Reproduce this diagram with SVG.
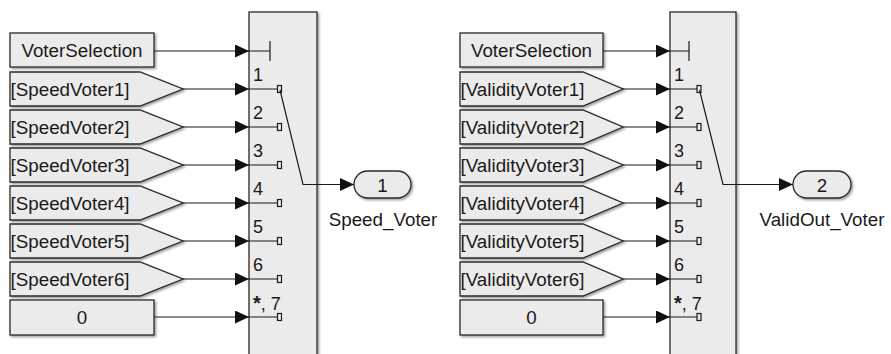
<svg xmlns="http://www.w3.org/2000/svg" width="891" height="354" viewBox="0 0 891 354">
<defs>
<style>
.blk{fill:#ebebeb;stroke:#2b2b2b;stroke-width:1.3;filter:url(#sh)}
.t{font-family:"Liberation Sans",Arial,sans-serif;font-size:18.8px;fill:#1a1a1a}
.p{font-family:"Liberation Sans",Arial,sans-serif;font-size:18px;fill:#1a1a1a}
.c{text-anchor:middle}
.w{fill:none;stroke:#1a1a1a;stroke-width:1.2}
.pin{fill:#ebebeb;stroke:#1a1a1a;stroke-width:1.2}
</style>
<filter id="sh" x="-10%" y="-10%" width="130%" height="130%">
<feDropShadow dx="1.5" dy="1.5" stdDeviation="0.8" flood-color="#000" flood-opacity="0.4"/>
</filter>
<marker id="ah" markerWidth="14" markerHeight="13" refX="14" refY="6.5" orient="auto" markerUnits="userSpaceOnUse">
<path d="M0,0 L14,6.5 L0,13 Z" fill="#111"/>
</marker>
</defs>

<!-- Left group -->
<g id="switch1">
<rect class="blk" x="249" y="12" width="68" height="360"/>
<text class="p" x="253" y="81">1</text>
<text class="p" x="253" y="119">2</text>
<text class="p" x="253" y="157">3</text>
<text class="p" x="253" y="195">4</text>
<text class="p" x="253" y="233">5</text>
<text class="p" x="253" y="271">6</text>
<text class="p" x="253" y="310"><tspan font-weight="bold" font-size="20px">*</tspan>, 7</text>
<path class="w" d="M249,51 H270 M270,41 V61"/>
<path class="w" d="M249,89 H278 M249,127 H278 M249,165 H278 M249,203 H278 M249,241 H278 M249,279 H278 M249,317 H278"/>
<rect class="pin" x="277.5" y="85.5" width="4" height="7"/>
<rect class="pin" x="277.5" y="123.5" width="4" height="7"/>
<rect class="pin" x="277.5" y="161.5" width="4" height="7"/>
<rect class="pin" x="277.5" y="199.5" width="4" height="7"/>
<rect class="pin" x="277.5" y="237.5" width="4" height="7"/>
<rect class="pin" x="277.5" y="275.5" width="4" height="7"/>
<rect class="pin" x="277.5" y="313.5" width="4" height="7"/>
<path class="w" d="M280,90 L303,184.5 H317"/>
</g>
<g id="vs1">
<rect class="blk" x="10" y="33" width="144" height="34"/>
<text class="t c" x="82" y="57">VoterSelection</text>
</g>
<g id="sv1"><path class="blk" d="M10,72 H140 L183,89 L140,106 H10 Z"/><text class="t" x="10.5" y="95.5">[SpeedVoter1]</text></g>
<g id="sv2"><path class="blk" d="M10,110 H140 L183,127 L140,144 H10 Z"/><text class="t" x="10.5" y="133.5">[SpeedVoter2]</text></g>
<g id="sv3"><path class="blk" d="M10,148 H140 L183,165 L140,182 H10 Z"/><text class="t" x="10.5" y="171.5">[SpeedVoter3]</text></g>
<g id="sv4"><path class="blk" d="M10,186 H140 L183,203 L140,220 H10 Z"/><text class="t" x="10.5" y="209.5">[SpeedVoter4]</text></g>
<g id="sv5"><path class="blk" d="M10,224 H140 L183,241 L140,258 H10 Z"/><text class="t" x="10.5" y="247.5">[SpeedVoter5]</text></g>
<g id="sv6"><path class="blk" d="M10,262 H140 L183,279 L140,296 H10 Z"/><text class="t" x="10.5" y="285.5">[SpeedVoter6]</text></g>
<g id="zero1">
<rect class="blk" x="10" y="300" width="144" height="35"/>
<text class="t c" x="82" y="324">0</text>
</g>
<g id="out1">
<rect class="blk" x="354" y="171" width="57" height="27" rx="13.5"/>
<text class="t c" x="382.5" y="191.5">1</text>
<text class="t c" x="383" y="226">Speed_Voter</text>
</g>

<!-- Right group -->
<g id="switch2">
<rect class="blk" x="670" y="12" width="66" height="360"/>
<text class="p" x="674" y="81">1</text>
<text class="p" x="674" y="119">2</text>
<text class="p" x="674" y="157">3</text>
<text class="p" x="674" y="195">4</text>
<text class="p" x="674" y="233">5</text>
<text class="p" x="674" y="271">6</text>
<text class="p" x="674" y="310"><tspan font-weight="bold" font-size="20px">*</tspan>, 7</text>
<path class="w" d="M670,51 H689 M689,41 V61"/>
<path class="w" d="M670,89 H697 M670,127 H697 M670,165 H697 M670,203 H697 M670,241 H697 M670,279 H697 M670,317 H697"/>
<rect class="pin" x="697" y="85.5" width="4" height="7"/>
<rect class="pin" x="697" y="123.5" width="4" height="7"/>
<rect class="pin" x="697" y="161.5" width="4" height="7"/>
<rect class="pin" x="697" y="199.5" width="4" height="7"/>
<rect class="pin" x="697" y="237.5" width="4" height="7"/>
<rect class="pin" x="697" y="275.5" width="4" height="7"/>
<rect class="pin" x="697" y="313.5" width="4" height="7"/>
<path class="w" d="M699.5,90 L723,184.5 H736"/>
</g>
<g id="vs2">
<rect class="blk" x="460" y="33" width="143" height="34"/>
<text class="t c" x="531.5" y="57">VoterSelection</text>
</g>
<g id="vv1"><path class="blk" d="M460,72 H583 L623,89 L583,106 H460 Z"/><text class="t" x="460.5" y="95.5">[ValidityVoter1]</text></g>
<g id="vv2"><path class="blk" d="M460,110 H583 L623,127 L583,144 H460 Z"/><text class="t" x="460.5" y="133.5">[ValidityVoter2]</text></g>
<g id="vv3"><path class="blk" d="M460,148 H583 L623,165 L583,182 H460 Z"/><text class="t" x="460.5" y="171.5">[ValidityVoter3]</text></g>
<g id="vv4"><path class="blk" d="M460,186 H583 L623,203 L583,220 H460 Z"/><text class="t" x="460.5" y="209.5">[ValidityVoter4]</text></g>
<g id="vv5"><path class="blk" d="M460,224 H583 L623,241 L583,258 H460 Z"/><text class="t" x="460.5" y="247.5">[ValidityVoter5]</text></g>
<g id="vv6"><path class="blk" d="M460,262 H583 L623,279 L583,296 H460 Z"/><text class="t" x="460.5" y="285.5">[ValidityVoter6]</text></g>
<g id="zero2">
<rect class="blk" x="460" y="300" width="143" height="35"/>
<text class="t c" x="531.5" y="324">0</text>
</g>
<g id="out2">
<rect class="blk" x="793" y="171" width="58" height="27" rx="13.5"/>
<text class="t c" x="822" y="191.5">2</text>
<text class="t c" x="822" y="226">ValidOut_Voter</text>
</g>

<!-- Connectors -->
<g id="connectors" class="w" marker-end="url(#ah)">
<path d="M154,51 H249"/>
<path d="M183,89 H249"/>
<path d="M183,127 H249"/>
<path d="M183,165 H249"/>
<path d="M183,203 H249"/>
<path d="M183,241 H249"/>
<path d="M183,279 H249"/>
<path d="M154,317 H249"/>
<path d="M317,184.5 H354"/>
<path d="M603,51 H670"/>
<path d="M623,89 H670"/>
<path d="M623,127 H670"/>
<path d="M623,165 H670"/>
<path d="M623,203 H670"/>
<path d="M623,241 H670"/>
<path d="M623,279 H670"/>
<path d="M603,317 H670"/>
<path d="M736,184.5 H793"/>
</g>
</svg>
